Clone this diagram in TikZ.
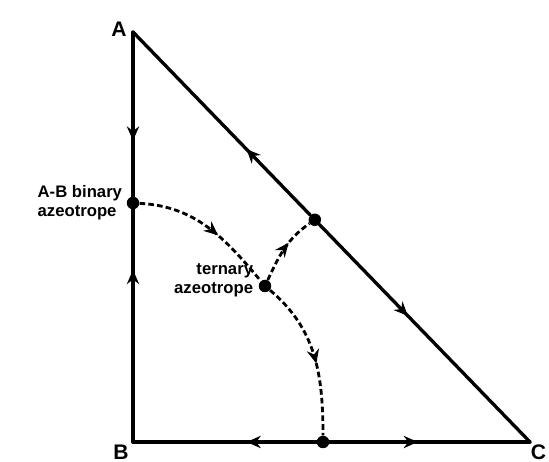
\documentclass[tikz,border=0pt]{standalone}
\usepackage{fontspec}
\setsansfont{Liberation Sans}
\usepackage{tikz}
\usetikzlibrary{arrows.meta, positioning, calc, decorations.markings}

\begin{document}
\begin{tikzpicture}[>=Stealth, x=0.02cm, y=-0.02cm,
        flowarrow/.style={postaction={decorate, decoration={markings, mark=at position #1 with {\arrow{Stealth[length=8pt, width=7pt]}}}}}]
        \tikzstyle{edge}   = [line width=1.9pt, line cap=round]
        \tikzstyle{sep}    = [line width=1.6pt, dash pattern=on 3.2pt off 1.8pt]
        \tikzstyle{azeo}   = [circle, fill=black, inner sep=0pt, minimum size=0.25cm]
        \tikzstyle{corner} = [inner sep=0pt, font=\sffamily\bfseries\fontsize{12}{14}\selectfont]
        \tikzstyle{txt}    = [inner sep=0pt, font=\sffamily\bfseries\fontsize{9.5}{10.8}\selectfont]

        \useasboundingbox (0,0) rectangle (549,462);

        % Corners and azeotropes
        \coordinate (A) at (133,32);
        \coordinate (B) at (133,442);
        \coordinate (C) at (530,442);
        \node[azeo] (ab) at (133,203) {};
        \node[azeo] (ac) at ($(A)!0.458!(C)$) {};
        \node[azeo] (bc) at (323,442) {};
        \node[azeo] (tern) at (265,286) {};

        % Labels
        \node[corner, anchor=east] (labA) at (127,29) {A};
        \node[corner, below left=0.05cm and 0.08cm of B] (labB) {B};
        \node[corner, below right=0.05cm and 0.01cm of C] (labC) {C};
        \node[txt, left=0.08cm of ab, align=left] (labAB) {A-B binary\\azeotrope};
        \node[txt, left=0.1cm of tern, yshift=0.12cm, align=right] (labT) {ternary\\azeotrope};

        % Triangle edges
        \draw[edge, flowarrow=0.66] (A) -- (ab);
        \draw[edge, flowarrow=0.74] (B) -- (ab);
        \draw[edge, flowarrow=0.36] (ac) -- (A);
        \draw[edge, flowarrow=0.42] (ac) -- (C);
        \draw[edge, flowarrow=0.38] (bc) -- (B);
        \draw[edge, flowarrow=0.44] (bc) -- (C);

        % Separatrices
        \draw[sep, flowarrow=0.58] (ab) to[out=-3, in=130] (tern);
        \draw[sep, flowarrow=0.6] (tern) to[out=65, in=215] (ac);
        \draw[sep, flowarrow=0.55] (tern) to[out=-40, in=90] (bc);
    \end{tikzpicture}
\end{document}
